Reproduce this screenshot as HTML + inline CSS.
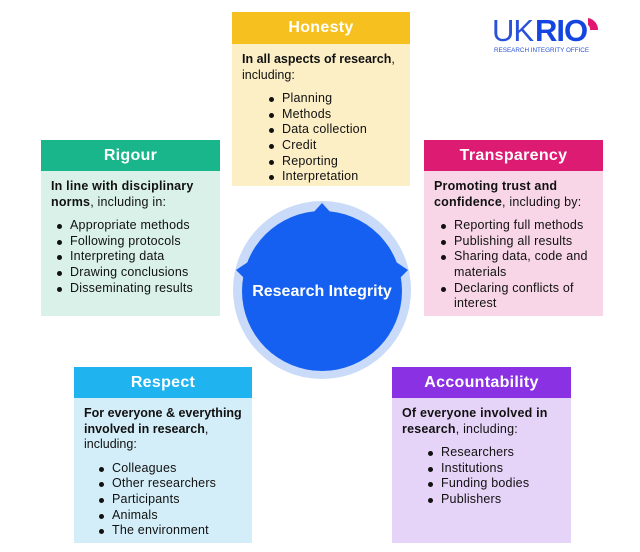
<!DOCTYPE html>
<html><head><meta charset="utf-8"><style>
body{margin:0;width:640px;height:552px;background:#fff;position:relative;overflow:hidden;font-family:"Liberation Sans",sans-serif;color:#111}
.b{position:absolute}
.h{height:31px;line-height:31px;text-align:center;color:#fff;font-size:16px;font-weight:bold;letter-spacing:0.3px}
.bd{position:absolute;left:0;right:0;top:31px;bottom:0;padding:8px 10px;font-size:12.5px;line-height:15.6px;letter-spacing:0.2px}
.bd p{margin:0 0 8px 0;white-space:nowrap}
.bd ul{margin:0;padding-left:20px;list-style:none}
.bd li{position:relative}
.bd li:before{content:"";position:absolute;left:-13px;top:6px;width:5px;height:5px;border-radius:50%;background:#111}
</style></head><body>

<div class="b" style="left:232px;top:12px;width:178px;height:174px;background:#fcefc6">
<div class="h" style="background:#f6c11e;height:32px;line-height:32px">Honesty</div>
<div class="bd" style="top:32px"><p style="letter-spacing:0"><b>In all aspects of research</b>,<br>including:</p>
<ul style="padding-left:40px"><li>Planning</li><li>Methods</li><li>Data collection</li><li>Credit</li><li>Reporting</li><li>Interpretation</li></ul></div></div>

<div class="b" style="left:41px;top:140px;width:179px;height:176px;background:#d9f1e8">
<div class="h" style="background:#18b68a">Rigour</div>
<div class="bd"><p><b>In line with disciplinary<br>norms</b>, including in:</p>
<ul style="padding-left:19px"><li>Appropriate methods</li><li>Following protocols</li><li>Interpreting data</li><li>Drawing conclusions</li><li>Disseminating results</li></ul></div></div>

<div class="b" style="left:424px;top:140px;width:179px;height:176px;background:#f8d6e8">
<div class="h" style="background:#dd1b72">Transparency</div>
<div class="bd"><p><b>Promoting trust and<br>confidence</b>, including by:</p>
<ul style="padding-left:20px"><li>Reporting full methods</li><li>Publishing all results</li><li>Sharing data, code and materials</li><li>Declaring conflicts of interest</li></ul></div></div>

<div class="b" style="left:74px;top:367px;width:178px;height:176px;background:#d4eef9">
<div class="h" style="background:#1fb3ef">Respect</div>
<div class="bd"><p style="letter-spacing:0"><b>For everyone &amp; everything<br>involved in research</b>,<br>including:</p>
<ul style="padding-left:28px"><li>Colleagues</li><li>Other researchers</li><li>Participants</li><li>Animals</li><li>The environment</li></ul></div></div>

<div class="b" style="left:392px;top:367px;width:179px;height:176px;background:#e5d3f8">
<div class="h" style="background:#8b31e4">Accountability</div>
<div class="bd"><p><b>Of everyone involved in<br>research</b>, including:</p>
<ul style="padding-left:39px"><li>Researchers</li><li>Institutions</li><li>Funding bodies</li><li>Publishers</li></ul></div></div>

<svg class="b" style="left:0;top:0" width="640" height="552">
<circle cx="322" cy="290" r="89" fill="#c9dbf8"/>
<circle cx="322" cy="291" r="80" fill="#1560f0"/>
<polygon points="322,203 312,214 332,214" fill="#1560f0"/>
<polygon points="236,270 248,262 248,282" fill="#1560f0"/>
<polygon points="408,270 396,262 396,282" fill="#1560f0"/>
<text x="322" y="296" text-anchor="middle" fill="#fff" font-family="Liberation Sans,sans-serif" font-size="16" font-weight="bold">Research Integrity</text>
<text x="492" y="41" fill="#2a52d8" font-family="Liberation Sans,sans-serif" font-size="31" letter-spacing="-1">UK</text>
<text x="535" y="41" fill="#1545e0" font-family="Liberation Sans,sans-serif" font-size="31" font-weight="bold" letter-spacing="-1">RIO</text>
<path d="M588 18 A12 12 0 0 1 598 30 L590 30 A5 5 0 0 0 588 25 Z" fill="#e0186f"/>
<text x="494" y="52" fill="#2a52d8" font-family="Liberation Sans,sans-serif" font-size="6.3">RESEARCH INTEGRITY OFFICE</text>
</svg>
</body></html>
